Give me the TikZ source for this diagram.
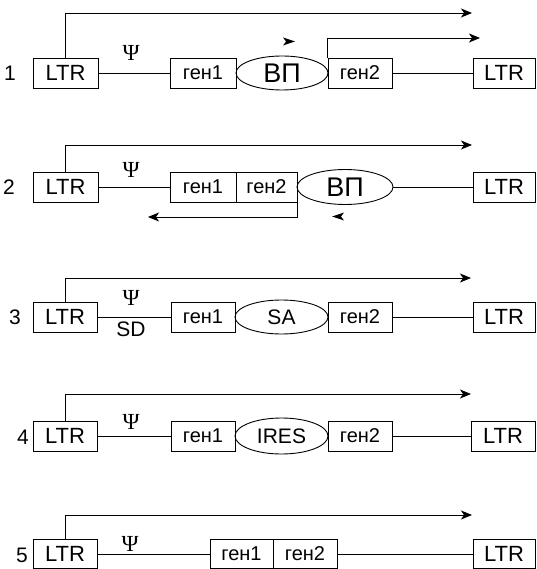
\documentclass[tikz,border=0pt]{standalone}
\usepackage{fontspec}
\setmainfont{Liberation Sans}
\newfontfamily\psifont{Liberation Serif}
\usetikzlibrary{arrows.meta,shapes.geometric}
\begin{document}
\begin{tikzpicture}[x=1pt,y=-1pt,line width=0.9pt,
  box/.style={draw,rectangle,inner sep=0pt,minimum height=30pt,font=\fontsize{22}{22}\selectfont},
  gbox/.style={box,font=\fontsize{20}{20}\selectfont},
  oval/.style={draw,ellipse,inner sep=0pt,minimum height=34pt},
  lab/.style={inner sep=0pt,font=\fontsize{21}{21}\selectfont},
  psi/.style={inner sep=0pt,font=\psifont\fontsize{23}{23}\selectfont},
  arr/.style={-{Stealth[length=11pt,width=9pt,inset=3pt]}}]
\useasboundingbox (0,0) rectangle (536,569);

% ---------- row 1 ----------
\node[lab] (n1) at (10,73) {1};
\node[box,minimum width=65pt] (l1) at (65.5,73) {LTR};
\node[gbox,minimum width=66pt] (g11) at (203,73) {ген1};
\node[oval,minimum width=92pt,font=\fontsize{27}{27}\selectfont] (vp1) at (282,73) {ВП};
\node[gbox,minimum width=64pt] (g12) at (360,73) {ген2};
\node[box,minimum width=62pt] (r1) at (504,73) {LTR};
\node[psi] (p1) at (131,53) {Ψ};
\coordinate (a1) at (472,13);
\coordinate (b1) at (480,38);
\draw (l1.east) -- (g11.west);
\draw (g12.east) -- (r1.west);
\draw[arr] (l1.north) |- (a1);
\draw[arr] (g12.north west) |- (b1);
\fill (283,37.5) -- (295,41.5) -- (283,45.5) -- (286,41.5) -- cycle;

% ---------- row 2 ----------
\node[lab] (n2) at (9,187) {2};
\node[box,minimum width=65pt] (l2) at (65.5,187) {LTR};
\node[gbox,minimum width=66pt] (g21) at (203,187) {ген1};
\node[gbox,minimum width=61pt] (g22) at (266.5,187) {ген2};
\node[oval,minimum width=96pt,minimum height=35pt,font=\fontsize{27}{27}\selectfont] (vp2) at (345,187) {ВП};
\node[box,minimum width=62pt] (r2) at (504,187) {LTR};
\node[psi] (p2) at (131,170) {Ψ};
\coordinate (a2) at (472,145);
\coordinate (c2) at (148,217);
\draw (l2.east) -- (g21.west);
\draw (vp2.east) -- (r2.west);
\draw[arr] (l2.north) |- (a2);
\draw[arr] (g22.south east) |- (c2);
\fill (332,216.5) -- (344,212.5) -- (341,216.5) -- (344,220.5) -- cycle;

% ---------- row 3 ----------
\node[lab] (n3) at (15,317) {3};
\node[box,minimum width=64pt] (l3) at (65,317) {LTR};
\node[gbox,minimum width=64pt] (g31) at (203,317) {ген1};
\node[oval,minimum width=93pt,font=\fontsize{21}{21}\selectfont] (sa) at (281.5,317) {SA};
\node[gbox,minimum width=64pt] (g32) at (360,317) {ген2};
\node[box,minimum width=62pt] (r3) at (504,317) {LTR};
\node[psi] (p3) at (131,298) {Ψ};
\node[lab] (sd) at (131,329) {SD};
\coordinate (a3) at (471,278);
\draw (l3.east) -- (g31.west);
\draw (g32.east) -- (r3.west);
\draw[arr] (l3.north) |- (a3);

% ---------- row 4 ----------
\node[lab] (n4) at (23,437) {4};
\node[box,minimum width=64pt] (l4) at (65,436) {LTR};
\node[gbox,minimum width=64pt] (g41) at (203,436) {ген1};
\node[oval,minimum width=93pt,minimum height=36pt,font=\fontsize{21}{21}\selectfont] (ires) at (281.5,436) {IRES};
\node[gbox,minimum width=64pt] (g42) at (360,436) {ген2};
\node[box,minimum width=64pt] (r4) at (503,436) {LTR};
\node[psi] (p4) at (131,422) {Ψ};
\coordinate (a4) at (471,394);
\draw (l4.east) -- (g41.west);
\draw (g42.east) -- (r4.west);
\draw[arr] (l4.north) |- (a4);

% ---------- row 5 ----------
\node[lab] (n5) at (22,555) {5};
\node[box,minimum width=64pt,minimum height=29pt] (l5) at (65,554) {LTR};
\node[gbox,minimum width=63pt,minimum height=29pt] (g51) at (241.5,554) {ген1};
\node[gbox,minimum width=64pt,minimum height=29pt] (g52) at (305,554) {ген2};
\node[box,minimum width=62pt,minimum height=29pt] (r5) at (504,554) {LTR};
\node[psi] (p5) at (130,544) {Ψ};
\coordinate (a5) at (472,515);
\draw (l5.east) -- (g51.west);
\draw (g52.east) -- (r5.west);
\draw[arr] (l5.north) |- (a5);
\end{tikzpicture}
\end{document}
